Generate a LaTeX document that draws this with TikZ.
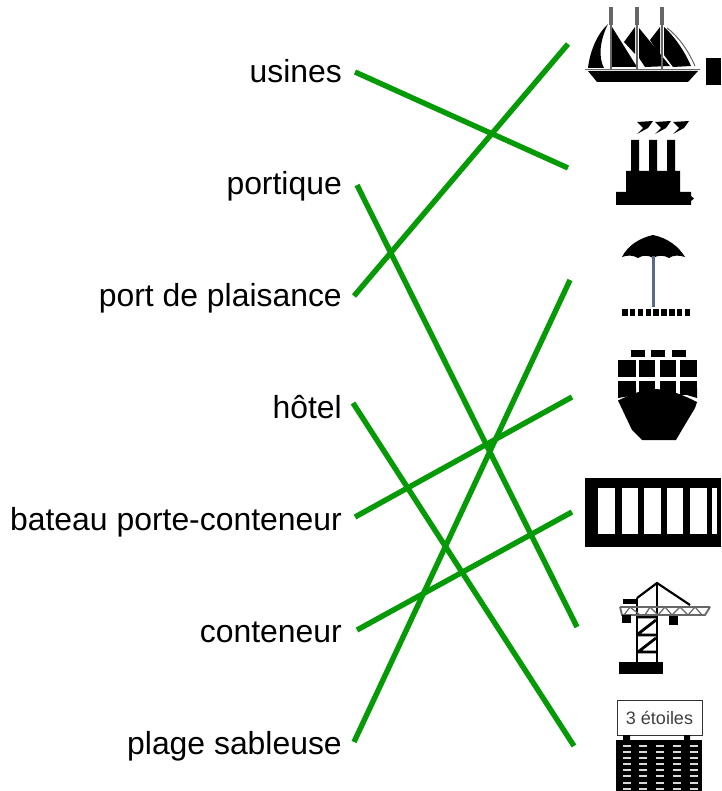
\documentclass[tikz,border=0pt]{standalone}
\usepackage{fontspec}
\setmainfont{Liberation Sans}
\definecolor{linegreen}{HTML}{069A06}
\definecolor{softgray}{HTML}{666666}
\definecolor{polecolor}{HTML}{5A6A85}
\tikzset{
 lbl/.style={anchor=east,inner xsep=13pt,inner ysep=0pt,text height=24.5pt,text depth=3.5pt,font=\fontsize{31.9}{36}\selectfont,text=black},
 conn/.style={linegreen,line width=5.4pt},
}
\begin{document}
\begin{tikzpicture}[x=1pt,y=-1pt]
\useasboundingbox (0,0) rectangle (721,791);
\fill[white] (0,0) rectangle (721,791);

% sailboats
\fill (588,71) -- (698,71) -- (688,82) -- (597,82) -- cycle;
\fill (588,68) .. controls (590,50) and (598,33) .. (608,24) .. controls (600,40) and (598,57) .. (604,68) -- cycle;
\fill (612,27) -- (637,67) -- (612,67) -- cycle;
\fill (624,42) -- (635,27) -- (635,54) -- cycle;
\fill (639,28) -- (670,66) -- (645,67) -- (639,58) -- cycle;
\fill (650,40) -- (660,27) -- (660,56) -- cycle;
\fill (664,27) .. controls (674,36) and (684,50) .. (691,66) -- (673,67) -- (664,55) -- cycle;
\draw[softgray,line width=3.5pt] (611,7) -- (611,25) (637,7) -- (637,25) (662,7) -- (662,25);
\draw[softgray,line width=1.5pt] (611,25) -- (611,70) (637,25) -- (637,70) (662,25) -- (662,70);
\draw[softgray,line width=1pt] (667,28) .. controls (678,36) and (688,50) .. (695,66);
\draw[softgray,line width=1.5pt] (585,69.5) -- (700,69.5);
\fill (706,58) rectangle (721,85);

% factory
\fill (616,205) -- (616,192) -- (626,192) -- (626,171) -- (631,171) -- (631,140) -- (639,140) -- (639,171) -- (649,171) -- (649,140) -- (657,140) -- (657,171) -- (667,171) -- (667,140) -- (675,140) -- (675,171) -- (680,171) -- (680,192) -- (691,192) -- (691,196) -- (694,198.5) -- (691,201) -- (691,205) -- cycle;
\foreach \dx in {0,18,36}{
 \fill[shift={(\dx,0)}] (637,122) -- (653,121) -- (648,128) -- (637,134) -- (643,128) -- cycle;
}

% umbrella
\fill (622,257) .. controls (628,245) and (640,238) .. (653,235) .. controls (668,238) and (679,247) .. (685,257) .. controls (679,255) and (673,255) .. (669,258) .. controls (664,255) and (658,255) .. (653,258) .. controls (649,255) and (642,255) .. (638,258) .. controls (633,255) and (627,255) .. (622,257) -- cycle;
\draw[polecolor,line width=3pt] (653,256) -- (653,307);
\foreach \i in {0,...,8}{\fill (622+\i*7.85,308.5) rectangle ++(5.5,7);}

% container ship
\foreach \xa in {631,651,672}{\fill (\xa,350) rectangle ++(14,6.5);}
\foreach \xa/\xb in {618/636,639/655,660/676,680/697}{
 \fill (\xa,360) rectangle (\xb,377);
 \fill (\xa,381) rectangle (\xb,395);
}
\fill (618,388) -- (636,388) -- (636,395) -- (618,398) -- cycle;
\fill (680,388) -- (697,388) -- (697,398) -- (680,393) -- cycle;
\fill (618,400.5) .. controls (630,395) and (642,389.5) .. (653,389) .. controls (670,389) and (685,396) .. (697,402) -- (695,408) -- (683,428) -- (676,440) -- (642,440) -- (632,430) -- cycle;

% container
\fill (585,478) rectangle (721,547);
\foreach \xa/\xb in {598/615,622/638,644/661,667/683,690/707,712/717}{\fill[white] (\xa,488) rectangle (\xb,534);}

% crane
\fill (619,662) rectangle (663,674);
\draw[line width=2.8pt] (637,662) -- (637,598) (657,662) -- (657,583);
\draw[line width=2.8pt] (637,652) -- (657,652) (638,652) -- (656,638) (637,635) -- (657,635) (638,634) -- (656,620) (637,617) -- (657,617);
\draw[line width=2.2pt] (637,598) -- (657,583) -- (690,605);
\draw[softgray,line width=1.8pt] (620,607) -- (710,607) (620,607) -- (622,615) -- (705,615) -- (710,607);
\draw[softgray,line width=1.2pt] (624,615) -- (630,607) -- (640,615) (645,615) -- (650,607) -- (658,615) -- (665,607) -- (672,615) -- (680,607) -- (688,615) -- (695,607) -- (702,615);
\fill (623,599) rectangle (638,604);
\fill (622,615) rectangle (631,623);
\fill (669,616) rectangle (678,625);

% hotel
\node[name=stars,draw=black!80,line width=1pt,fill=white,minimum width=85pt,minimum height=35pt,inner sep=0pt,font=\fontsize{18}{20}\selectfont,text=black!75] at (659.5,717.5) {3 étoiles};
\fill (623,735) rectangle (630,741) (684,735) rectangle (690,741);
\fill (616,740) rectangle (702,791);
\foreach \cx in {627,643,660,677,694}{
 \foreach \ry in {746,752,758,764,770,776,783,789}{
  \fill[white!85!black] (\cx-4,\ry-1) rectangle (\cx+4,\ry+1);
 }
}

% labels
\node[lbl] (usines) at (355,72) {usines};
\node[lbl] (portique) at (355,184) {portique};
\node[lbl] (plaisance) at (355,296) {port de plaisance};
\node[lbl] (hotel) at (355,408) {hôtel};
\node[lbl] (bateau) at (355,520) {bateau porte-conteneur};
\node[lbl] (conteneur) at (355,632) {conteneur};
\node[lbl] (plage) at (355,744) {plage sableuse};

% connector ends
\coordinate (iboats) at (568,44);
\coordinate (ifactory) at (568,168);
\coordinate (iumbrella) at (570,280);
\coordinate (iship) at (572,397);
\coordinate (icontainer) at (572,512);
\coordinate (icrane) at (577,627);
\coordinate (ihotel) at (574,746);

\draw[conn] (usines.east) -- (ifactory);
\draw[conn] ([xshift=2pt,yshift=-1pt]portique.east) -- (icrane);
\draw[conn] ([xshift=-1pt]plaisance.east) -- (iboats);
\draw[conn] ([xshift=-2pt,yshift=5pt]hotel.east) -- (ihotel);
\draw[conn] ([yshift=3pt]bateau.east) -- (iship);
\draw[conn] ([xshift=2pt,yshift=2pt]conteneur.east) -- (icontainer);
\draw[conn] ([xshift=-1pt,yshift=2pt]plage.east) -- (iumbrella);
\end{tikzpicture}
\end{document}
